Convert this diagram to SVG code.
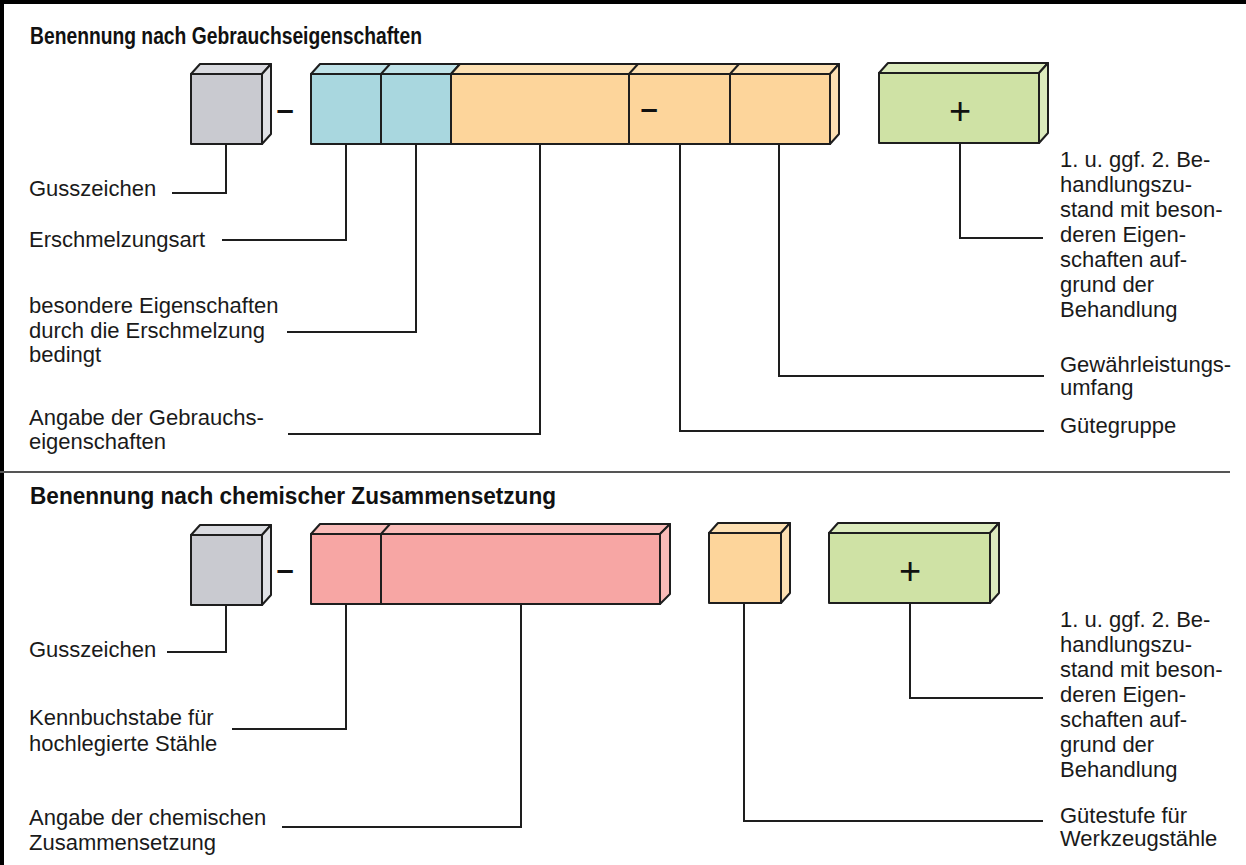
<svg xmlns="http://www.w3.org/2000/svg" width="1246" height="865" viewBox="0 0 1246 865">
<style>
  .t{font-family:"Liberation Sans",Arial,sans-serif;font-size:22px;fill:#1a1a1a}
  .h{font-family:"Liberation Sans",Arial,sans-serif;font-size:23px;font-weight:bold;fill:#111}
  .s{font-family:"Liberation Sans",Arial,sans-serif;font-size:31px;font-weight:bold;fill:#111;text-anchor:middle}
  .p{font-family:"Liberation Sans",Arial,sans-serif;font-size:38px;fill:#111;text-anchor:middle}
  .e{stroke:#1e1e1e;stroke-width:2;stroke-linejoin:round}
  .c{fill:none;stroke:#1e1e1e;stroke-width:2}
  .gf{fill:#c9cad0}.gt{fill:#d9dadf}.gs{fill:#e0e1e5}
  .bf{fill:#a9d7df}.bt{fill:#bfe2e8}
  .of{fill:#fdd59b}.ot{fill:#fde0b2}
  .nf{fill:#cfe2a5}.nt{fill:#dcebbd}
  .pf{fill:#f7a6a4}.pt{fill:#f9bbb8}
</style>
<rect x="0" y="0" width="1246" height="865" fill="#fff"/>
<line x1="0" y1="2" x2="1246" y2="2" stroke="#000" stroke-width="4"/>
<line x1="2" y1="0" x2="2" y2="865" stroke="#000" stroke-width="4"/>
<line x1="0" y1="472" x2="1230" y2="472" stroke="#555" stroke-width="2"/>

<text class="h" x="30" y="44" textLength="392" lengthAdjust="spacingAndGlyphs">Benennung nach Gebrauchseigenschaften</text>
<text class="h" x="30" y="504" textLength="526" lengthAdjust="spacingAndGlyphs">Benennung nach chemischer Zusammensetzung</text>

<!-- top row -->
<g id="top-guss">
  <polygon class="e gt" points="191,74 200,64 271,64 262,74"/>
  <polygon class="e gs" points="262,74 271,64 271,134 262,144"/>
  <rect class="e gf" x="191" y="74" width="71" height="70"/>
</g>
<text class="s" x="285" y="120">–</text>
<g id="top-bar">
  <polygon class="e bt" points="311,74 320,64 460,64 451,74"/>
  <polygon class="e ot" points="451,74 460,64 839,64 830,74"/>
  <polygon class="e ot" points="830,74 839,64 839,134 830,144"/>
  <rect class="e bf" x="311" y="74" width="70" height="70"/>
  <rect class="e bf" x="381" y="74" width="70" height="70"/>
  <rect class="e of" x="451" y="74" width="178" height="70"/>
  <rect class="e of" x="629" y="74" width="101" height="70"/>
  <rect class="e of" x="730" y="74" width="100" height="70"/>
  <line class="e" x1="381" y1="74" x2="390" y2="64"/>
  <line class="e" x1="629" y1="74" x2="638" y2="64"/>
  <line class="e" x1="730" y1="74" x2="739" y2="64"/>
  <text class="s" x="649" y="119">–</text>
</g>
<g id="top-green">
  <polygon class="e nt" points="879,73 888,63 1048,63 1039,73"/>
  <polygon class="e nt" points="1039,73 1048,63 1048,133 1039,143"/>
  <rect class="e nf" x="879" y="73" width="160" height="70"/>
  <text class="p" x="960" y="124">+</text>
</g>

<!-- bottom row -->
<g id="bot-guss">
  <polygon class="e gt" points="191,535 200,525 271,525 262,535"/>
  <polygon class="e gs" points="262,535 271,525 271,595 262,605"/>
  <rect class="e gf" x="191" y="535" width="71" height="70"/>
</g>
<text class="s" x="285" y="580">–</text>
<g id="bot-bar">
  <polygon class="e pt" points="311,534 320,524 670,524 660,534"/>
  <polygon class="e pt" points="660,534 670,524 670,594 660,604"/>
  <rect class="e pf" x="311" y="534" width="70" height="70"/>
  <rect class="e pf" x="381" y="534" width="279" height="70"/>
  <line class="e" x1="381" y1="534" x2="390" y2="524"/>
</g>
<g id="bot-orange">
  <polygon class="e ot" points="709,533 718,523 790,523 781,533"/>
  <polygon class="e ot" points="781,533 790,523 790,593 781,603"/>
  <rect class="e of" x="709" y="533" width="72" height="70"/>
</g>
<g id="bot-green">
  <polygon class="e nt" points="829,533 838,523 999,523 990,533"/>
  <polygon class="e nt" points="990,533 999,523 999,593 990,603"/>
  <rect class="e nf" x="829" y="533" width="161" height="70"/>
  <text class="p" x="910" y="584">+</text>
</g>

<g id="connectors">
  <polyline class="c" points="226,144 226,193 172,193"/>
  <polyline class="c" points="346,144 346,240 222,240"/>
  <polyline class="c" points="416,144 416,332 287,332"/>
  <polyline class="c" points="540,144 540,434 288,434"/>
  <polyline class="c" points="680,144 680,431 1044,431"/>
  <polyline class="c" points="779,144 779,376 1044,376"/>
  <polyline class="c" points="960,143 960,238 1043,238"/>

  <polyline class="c" points="226,605 226,652 167,652"/>
  <polyline class="c" points="346,604 346,729 232,729"/>
  <polyline class="c" points="521,604 521,827 282,827"/>
  <polyline class="c" points="744,603 744,821 1043,821"/>
  <polyline class="c" points="910,603 910,698 1043,698"/>
</g>

<g id="labels-top">
  <text class="t" x="29" y="196">Gusszeichen</text>
  <text class="t" x="29" y="247">Erschmelzungsart</text>
  <text class="t" x="29" y="313">besondere Eigenschaften</text>
  <text class="t" x="29" y="338">durch die Erschmelzung</text>
  <text class="t" x="29" y="362">bedingt</text>
  <text class="t" x="29" y="425">Angabe der Gebrauchs-</text>
  <text class="t" x="29" y="449">eigenschaften</text>
  <text class="t" x="1060" y="167">1. u. ggf. 2. Be-</text>
  <text class="t" x="1060" y="192">handlungszu-</text>
  <text class="t" x="1060" y="217">stand mit beson-</text>
  <text class="t" x="1060" y="242">deren Eigen-</text>
  <text class="t" x="1060" y="267">schaften auf-</text>
  <text class="t" x="1060" y="292">grund der</text>
  <text class="t" x="1060" y="317">Behandlung</text>
  <text class="t" x="1060" y="372">Gewährleistungs-</text>
  <text class="t" x="1060" y="395">umfang</text>
  <text class="t" x="1060" y="433">Gütegruppe</text>
</g>
<g id="labels-bottom">
  <text class="t" x="29" y="657">Gusszeichen</text>
  <text class="t" x="29" y="725">Kennbuchstabe für</text>
  <text class="t" x="29" y="751">hochlegierte Stähle</text>
  <text class="t" x="29" y="825">Angabe der chemischen</text>
  <text class="t" x="29" y="850">Zusammensetzung</text>
  <text class="t" x="1060" y="627">1. u. ggf. 2. Be-</text>
  <text class="t" x="1060" y="652">handlungszu-</text>
  <text class="t" x="1060" y="677">stand mit beson-</text>
  <text class="t" x="1060" y="702">deren Eigen-</text>
  <text class="t" x="1060" y="727">schaften auf-</text>
  <text class="t" x="1060" y="752">grund der</text>
  <text class="t" x="1060" y="777">Behandlung</text>
  <text class="t" x="1060" y="823">Gütestufe für</text>
  <text class="t" x="1060" y="846">Werkzeugstähle</text>
</g>
</svg>
